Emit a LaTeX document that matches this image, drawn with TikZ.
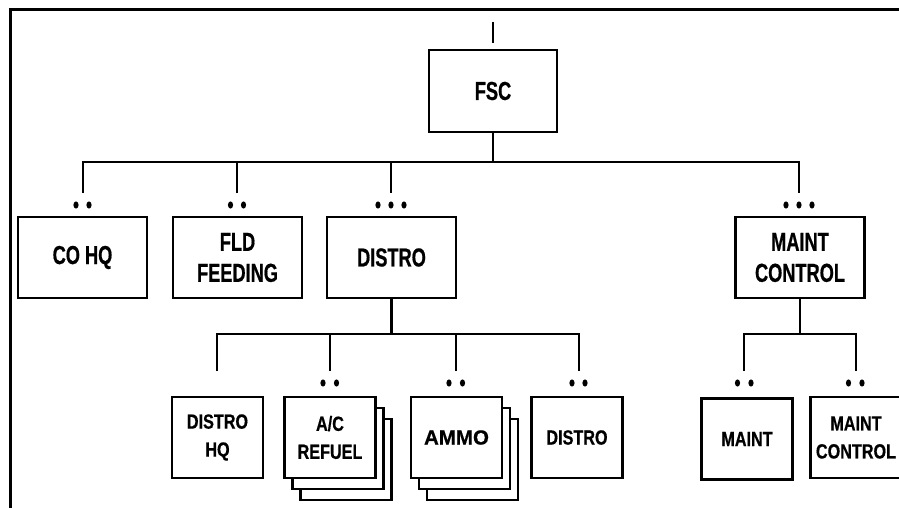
\documentclass[tikz,border=0pt]{standalone}
\usepackage{fontspec}
\newfontfamily\topfont{Liberation Sans}[FakeStretch=0.70,FakeBold=0.6]
\newfontfamily\botfont{Liberation Sans}[FakeStretch=0.79,FakeBold=0.6]
\newfontfamily\ammofont{Liberation Sans}[FakeBold=0.6]
\begin{document}
\begin{tikzpicture}[x=1pt,y=-1pt,
  box/.style={draw, line width=2.2pt, fill=white, inner sep=0pt, align=center},
  topbox/.style={box, minimum width=129pt, minimum height=81pt,
    font=\topfont\bfseries\fontsize{26}{31}\selectfont},
  botbox/.style={box, minimum width=91pt, minimum height=81pt,
    font=\botfont\bfseries\fontsize{20.5}{28}\selectfont},
  ammobox/.style={botbox, font=\ammofont\bfseries\fontsize{20.5}{24}\selectfont},
  link/.style={line width=2.2pt},
  frameline/.style={line width=3pt},
  dot/.style={fill=black}]
\useasboundingbox (0,0) rectangle (899,508);
\clip (0,0) rectangle (899,508);
\fill[white] (0,0) rectangle (899,508);
% frame
\draw[frameline] (10.5,508) -- (10.5,10) -- (899,10);

% top
\node[topbox, minimum width=128pt, minimum height=82pt] (fsc) at (493,91) {FSC};
\coordinate (stubtop) at (493,22);
\coordinate (stubbot) at (493,43);
\draw[link] (stubtop) -- (stubbot);

% level 1 boxes
\node[topbox] (cohq) at (82.5,257.5) {CO HQ};
\node[topbox] (fld) at (237.5,257.5) {FLD\\FEEDING};
\node[topbox] (distro) at (391.5,257.5) {DISTRO};
\node[topbox] (mctl) at (800,257.5) {MAINT\\CONTROL};

% level 1 connectors
\coordinate (busR) at (799,162);
\coordinate (d1) at (83,193);
\coordinate (d2) at (237,193);
\coordinate (d3) at (391,193);
\coordinate (d4) at (799,193);
\draw[link] (d1) |- (busR) -- (d4);
\draw[link] (fsc.south) -- (fsc.south |- busR);
\draw[link] (d2) -- (d2 |- busR);
\draw[link] (d3) -- (d3 |- busR);

% level 1 dots
\foreach \x in {76,89, 230.5,243.5, 378,391,404, 786,799,812}
  \fill[dot] (\x,205) ellipse (2.6 and 3.6);

% level 2 boxes (DISTRO)
\node[botbox] (dhq) at (217.5,437.5) {DISTRO\\HQ};
\node[botbox] (acr3) at (346,459.5) {};
\node[botbox] (acr2) at (338,448.5) {};
\node[botbox] (acr) at (330,437.5) {A/C\\REFUEL};
\node[botbox] (ammo3) at (472.5,459.5) {};
\node[botbox] (ammo2) at (464.5,448.5) {};
\node[ammobox] (ammo) at (456.5,437.5) {AMMO};
\node[botbox] (dist2) at (577,437.5) {DISTRO};

% level 2 boxes (MAINT)
\node[botbox] (maint) at (747,439) {MAINT};
\node[botbox] (mctl2) at (856,437.5) {MAINT\\CONTROL};

% level 2 connectors
\coordinate (busD) at (579,334);
\coordinate (e1) at (217,371);
\coordinate (e2) at (330,371);
\coordinate (e3) at (456,371);
\coordinate (e4) at (579,371);
\draw[link] (e1) |- (busD) -- (e4);
\draw[link] (distro.south) -- (distro.south |- busD);
\draw[link] (e2) -- (e2 |- busD);
\draw[link] (e3) -- (e3 |- busD);

\coordinate (busM) at (856,334);
\coordinate (f1) at (744,371);
\coordinate (f2) at (856,371);
\draw[link] (f1) |- (busM) -- (f2);
\draw[link] (mctl.south) -- (mctl.south |- busM);

% level 2 dots
\foreach \x in {323,336.5, 449,462.5, 572,585, 737.5,751, 848.5,862}
  \fill[dot] (\x,383) ellipse (2.6 and 3.6);
\end{tikzpicture}
\end{document}
